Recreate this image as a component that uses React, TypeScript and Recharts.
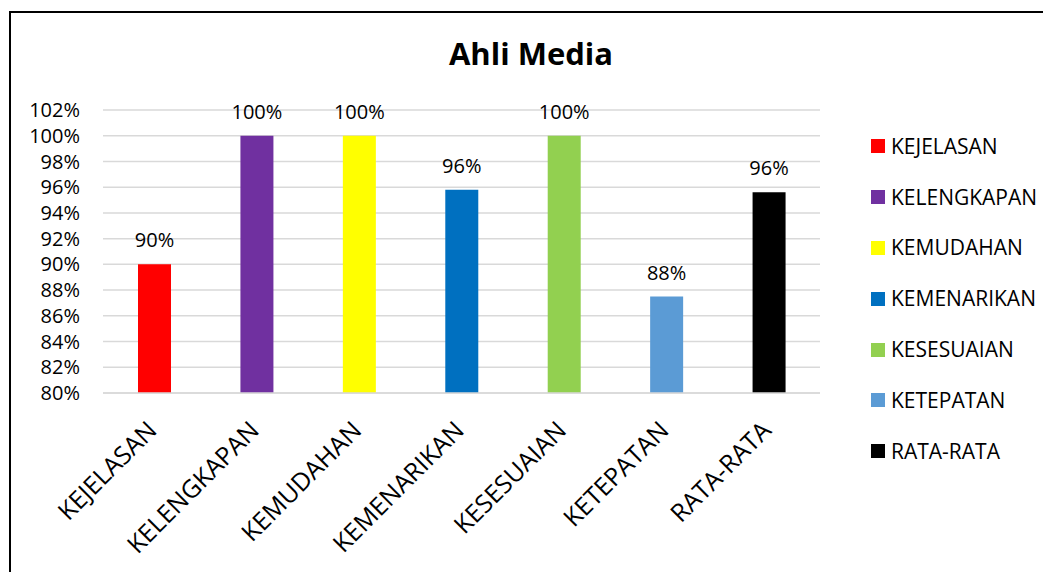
import { BarChart, Bar, Cell, XAxis, YAxis, CartesianGrid, Legend, LabelList } from "recharts";

const categories = ["KEJELASAN", "KELENGKAPAN", "KEMUDAHAN", "KEMENARIKAN", "KESESUAIAN", "KETEPATAN", "RATA-RATA"];
const values = [90, 100, 100, 95.8, 100, 87.5, 95.6];
const colors = ["#FF0000", "#7030A0", "#FFFF00", "#0070C0", "#92D050", "#5B9BD5", "#000000"];
const yTicks = [80, 82, 84, 86, 88, 90, 92, 94, 96, 98, 100, 102];
const title = "Ahli Media";

const data = categories.map((name, i) => ({ name, value: values[i] }));

const font = "'Open Sans', sans-serif";

function XTick({ x, y, payload }: any) {
  return (
    <g transform={`translate(${x + 4},${y + 31})`}>
      <text textAnchor="end" transform="rotate(-45)" fontSize={25} fontFamily={font} fill="#000">
        {payload.value}
      </text>
    </g>
  );
}

function LegendBox() {
  return (
    <div style={{ fontFamily: font, fontSize: 21, color: "#000" }}>
      {categories.map((c, i) => (
        <div key={c} style={{ height: 50.8, display: "flex", alignItems: "center" }}>
          <span style={{ width: 14, height: 14, background: colors[i], marginRight: 6, display: "inline-block" }} />
          <span style={{ lineHeight: "21px" }}>{c}</span>
        </div>
      ))}
    </div>
  );
}

export default function App() {
  return (
    <div style={{ position: "absolute", left: 0, top: 0, width: 1043, height: 572, overflow: "hidden", background: "#fff" }}>
      <div style={{ position: "absolute", left: 9, top: 11, width: 1100, height: 700, borderTop: "2px solid #000", borderLeft: "2px solid #000" }} />
      <div style={{ position: "absolute", left: 0, top: 38, width: 1062, textAlign: "center", fontFamily: font, fontWeight: 700, fontSize: 31, lineHeight: 1, color: "#000" }}>
        {title}
      </div>
      <BarChart width={1043} height={572} data={data} margin={{ top: 110, right: 223, bottom: 29, left: 0 }}>
        <CartesianGrid vertical={false} stroke="#D9D9D9" strokeWidth={1.5} />
        <XAxis dataKey="name" axisLine={{ stroke: "#D9D9D9", strokeWidth: 1.5 }} tickLine={false} height={150} interval={0} tick={<XTick />} />
        <YAxis
          width={103}
          domain={[80, 102]}
          ticks={yTicks}
          axisLine={false}
          tickLine={false}
          tickSize={0}
          tickMargin={23}
          tickFormatter={(v: number) => `${v}%`}
          tick={{ fontSize: 20, fontFamily: font, fill: "#000" }}
          interval={0}
        />
        <Legend
          layout="vertical"
          align="center"
          verticalAlign="middle"
          content={() => <LegendBox />}
          wrapperStyle={{ left: 871, top: 121, width: 172 }}
        />
        <Bar dataKey="value" barSize={33} isAnimationActive={false}>
          {data.map((d, i) => (
            <Cell key={d.name} fill={colors[i]} />
          ))}
          <LabelList
            dataKey="value"
            position="top"
            offset={17}
            formatter={(v: any) => `${Math.round(v)}%`}
            style={{ fontSize: 20, fontFamily: font, fill: "#000" }}
          />
        </Bar>
      </BarChart>
    </div>
  );
}
